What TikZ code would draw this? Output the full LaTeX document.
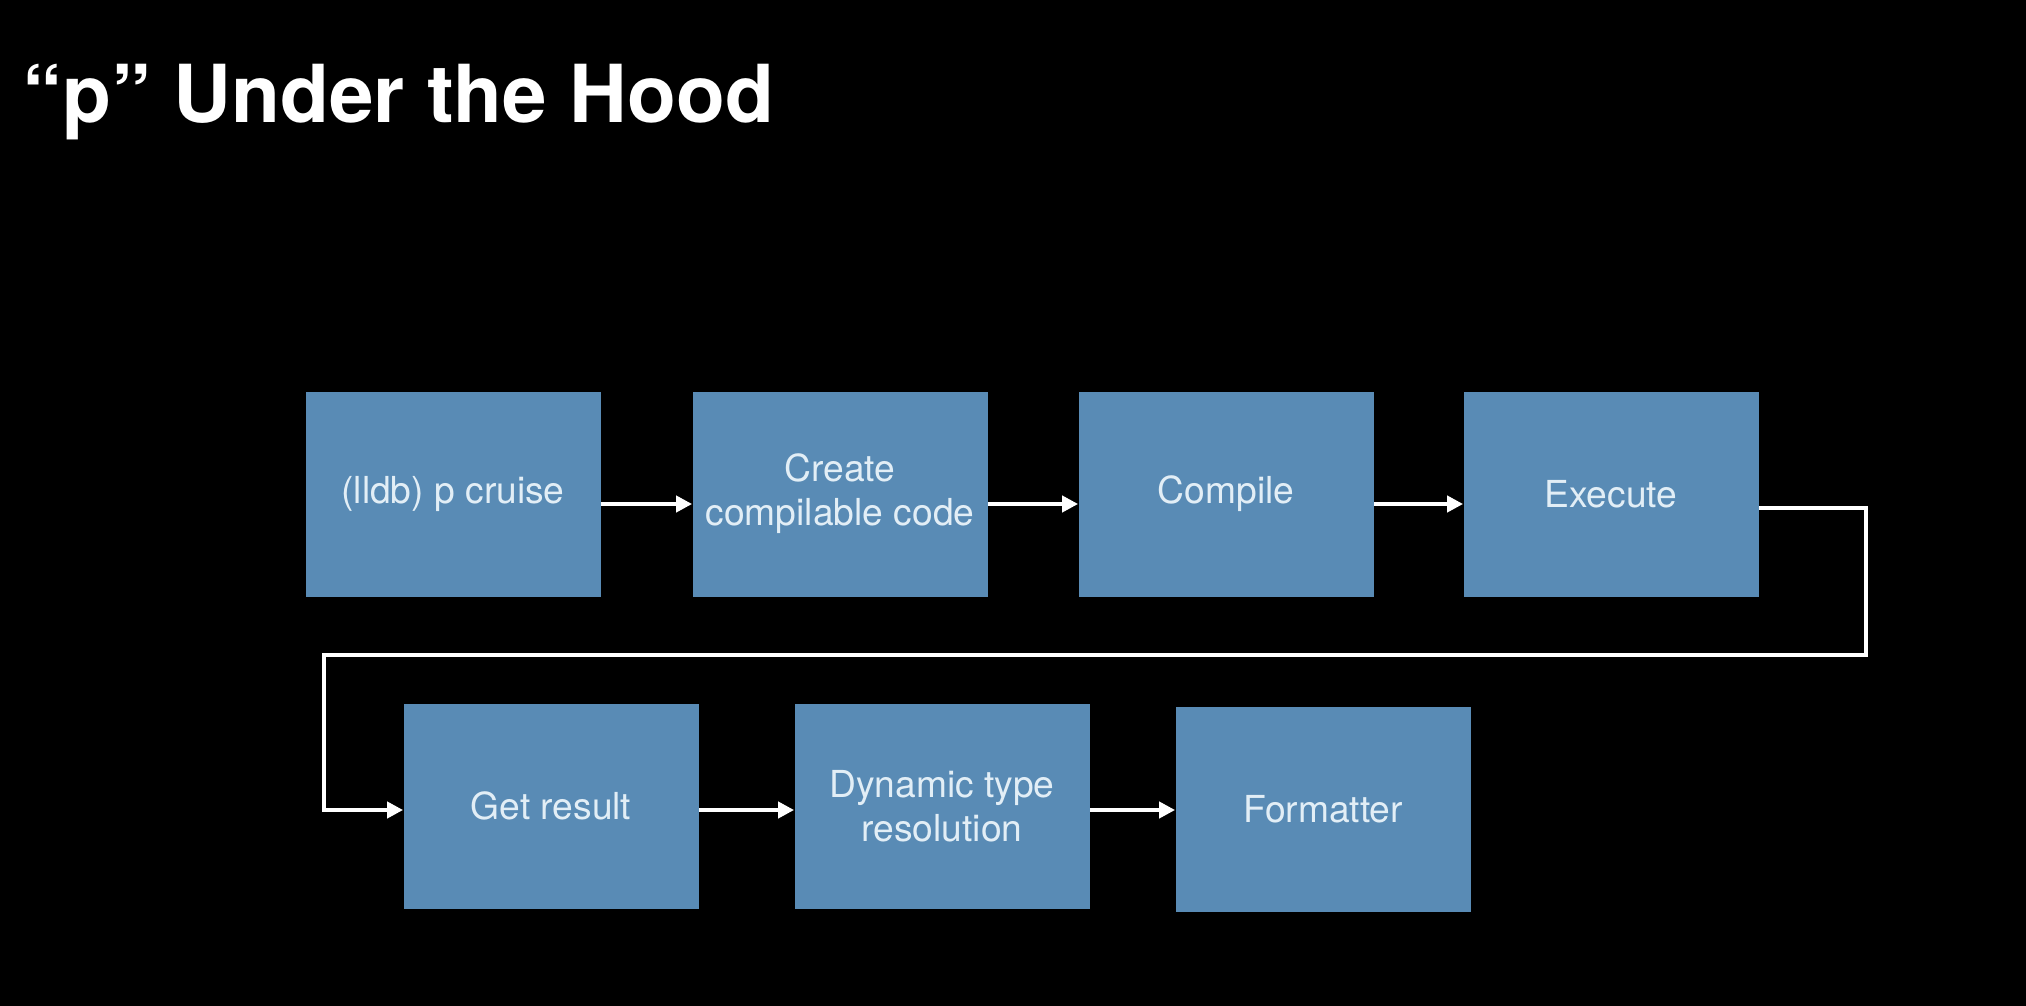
\documentclass[tikz,border=0pt]{standalone}
\usepackage{fontspec}
\setmainfont{TeX Gyre Heros}
\usetikzlibrary{calc,arrows.meta}
\definecolor{boxblue}{RGB}{89,139,181}
\definecolor{boxtext}{RGB}{226,238,246}
\tikzset{
	stage/.style={rectangle,fill=boxblue,draw=none,minimum width=147.5pt,minimum height=102.5pt,inner sep=2pt,text=boxtext,font=\fontsize{18.6}{22}\selectfont,align=center},
	flow/.style={draw=white,line width=2pt,arrows={-Triangle[length=8pt,width=8pt]}},
	heading/.style={text=white,font=\fontsize{40}{48}\selectfont\bfseries,inner sep=0pt}
}

\begin{document}
\begin{tikzpicture}[x=0.5pt,y=-0.5pt]
		\fill[black] (0,0) rectangle (2026,1006);
		\node[heading,anchor=base west] (title) at (22,123) {“p” Under the Hood};
		
		\node[stage] (lldb) at (453,494) {(lldb) p cruise};
		\node[stage] (create) at ($(lldb) + (387,0)$) {Create\\compilable code};
		\node[stage] (compile) at ($(create) + (386,0)$) {Compile};
		\node[stage] (exec) at ($(compile) + (385,0)$) {Execute};
		\node[stage] (getres) at ($(lldb) + (98,312)$) {Get result};
		\node[stage] (dyntype) at ($(getres) + (391,0)$) {Dynamic type\\resolution};
		\node[stage] (fmt) at ($(dyntype) + (381,3)$) {Formatter};
		
		\coordinate (loopR) at (1866,655);
		\coordinate (loopL) at (324,655);
		
		\draw[flow] ([yshift=-5pt]lldb.east) -- ([yshift=-5pt]create.west);
		\draw[flow] ([yshift=-5pt]create.east) -- ([yshift=-5pt]compile.west);
		\draw[flow] ([yshift=-5pt]compile.east) -- ([yshift=-5pt]exec.west);
		\draw[flow] ([yshift=-7pt]exec.east) -| (loopR) -- (loopL) |- ([yshift=-2pt]getres.west);
		\draw[flow] ([yshift=-2pt]getres.east) -- ([yshift=-2pt]dyntype.west);
		\draw[flow] ([yshift=-2pt]dyntype.east) -- ([yshift=-0.5pt]fmt.west);
		\end{tikzpicture}
\end{document}
